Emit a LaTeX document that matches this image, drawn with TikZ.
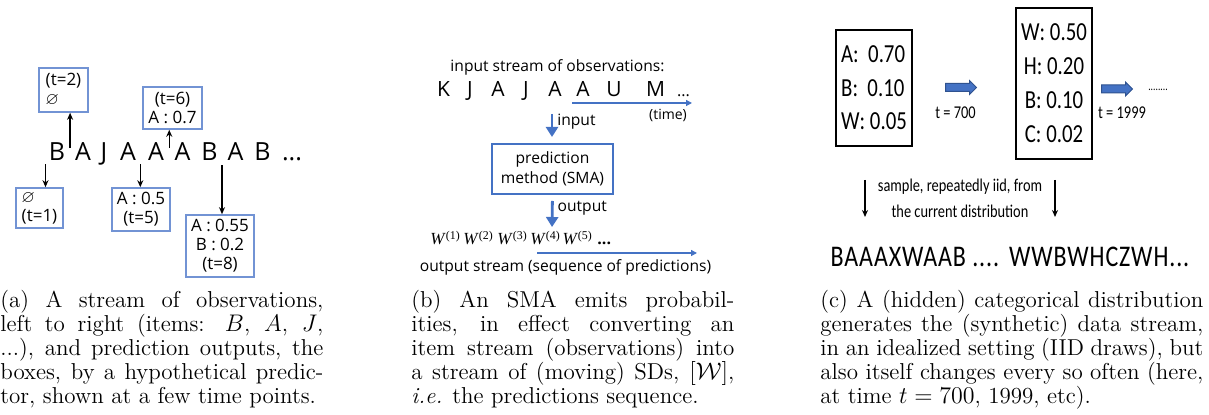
\documentclass[tikz,border=0pt]{standalone}
\usepackage{fontspec}
\usepackage{amsmath,amssymb}
\usetikzlibrary{arrows.meta,calc,shapes.arrows}
\newfontfamily\osans{Open Sans}
\newfontfamily\csans{Carlito}[FakeStretch=0.8]
\newfontfamily\lserif{Liberation Serif}
\definecolor{boxblue}{RGB}{114,147,212}
\definecolor{arrblue}{RGB}{68,114,196}
\definecolor{darkblue}{RGB}{47,82,143}

\begin{document}
\begin{tikzpicture}[x=0.5pt, y=-0.5pt, >={Stealth[length=3.5pt,width=3pt]},
    obs/.style={font=\osans\fontsize{12.5}{14}\selectfont, inner sep=0pt, anchor=base},
    kobs/.style={font=\osans\fontsize{10.5}{12}\selectfont, inner sep=0pt, anchor=base},
    pbox/.style={draw=boxblue, line width=0.8pt, font=\osans\fontsize{8.5}{9.5}\selectfont, inner sep=0pt},
    lbl/.style={font=\osans\fontsize{7.8}{10}\selectfont, inner sep=0pt, text=black},
    wseq/.style={font=\lserif\fontsize{8.5}{10}\selectfont, inner sep=0pt, anchor=base west},
    barr/.style={arrblue, line width=1.4pt, -{Triangle[width=6pt,length=5pt]}},
    tarr/.style={arrblue, line width=0.6pt, -{Triangle[width=3pt,length=3pt]}},
    dbox/.style={draw, line width=1pt, font=\csans\fontsize{13}{16.75}\selectfont, inner sep=0pt},
    barrow/.style={single arrow, draw=darkblue, fill=arrblue, line width=0.5pt, minimum height=15.5pt,
      minimum width=0pt, single arrow head extend=1.5pt, inner xsep=0pt, inner ysep=1.75pt},
    ctxt/.style={font=\csans\fontsize{9}{13}\selectfont, inner sep=0pt},
    captxt/.style={anchor=base west, inner sep=0pt, font=\fontsize{11.5}{11.9}\selectfont}]
  \useasboundingbox (0,0) rectangle (1209,415);

  % (a) observations and predictor boxes
  \node[obs] (l1) at (57,161) {B};
  \node[obs] (l2) at (83,161) {A};
  \node[obs] (l3) at (104,161) {J};
  \node[obs] (l4) at (128,161) {A};
  \node[obs] (l5) at (156,161) {A};
  \node[obs] (l6) at (182.5,161) {A};
  \node[obs] (l7) at (209.5,161) {B};
  \node[obs] (l8) at (235.5,161) {A};
  \node[obs] (l9) at (262.5,161) {B};
  \node[obs] (l10) at (292,161) {...};

  \node[pbox, minimum width=24.5pt, minimum height=22pt, align=left] (bx2) at (63.5,90) {(t=2)\\$\varnothing$};
  \node[pbox, minimum width=29.5pt, minimum height=21pt, align=center] (bx6) at (172.5,108) {(t=6)\\A : 0.7};
  \node[pbox, minimum width=23.5pt, minimum height=20pt, align=left] (bx1) at (39.5,208) {$\varnothing$\\(t=1)};
  \node[pbox, minimum width=29pt, minimum height=21.5pt, align=center] (bx5) at (141,209.5) {A : 0.5\\(t=5)};
  \node[pbox, minimum width=34pt, minimum height=31pt, align=center] (bx8) at (220,246) {A : 0.55\\B : 0.2\\(t=8)};

  \coordinate (a1) at ([xshift=-1.5pt,yshift=-1.5pt]l1.south west);
  \coordinate (a2) at ($(l1.east)!.5!(l2.west)+(0,-4)$);
  \coordinate (a3) at ([xshift=2pt,yshift=-1.5pt]l4.south east);
  \coordinate (a4) at ($(l5.east)!.5!(l6.west)+(0,-4)$);
  \coordinate (a5) at ([xshift=2pt,yshift=-2pt]l7.south east);
  \draw[->, line width=0.6pt] (a1) -- (a1 |- bx1.north);
  \draw[->, line width=0.6pt] (a2) -- (a2 |- bx2.south);
  \draw[->, line width=0.6pt] (a3) -- (a3 |- bx5.north);
  \draw[->, line width=0.6pt] (a4) -- (a4 |- bx6.south);
  \draw[->, line width=0.6pt] (a5) -- (a5 |- bx8.north);

  % (b) SMA
  \node[lbl] (ttl) at (557.5,67) {input stream of observations:};
  \node[kobs] (k1) at (443.5,97) {K};
  \node[kobs] (k2) at (470,97) {J};
  \node[kobs] (k3) at (498,97) {A};
  \node[kobs] (k4) at (526,97) {J};
  \node[kobs] (k5) at (555,97) {A};
  \node[kobs] (k6) at (583,97) {A};
  \node[kobs] (k7) at (614,97) {U};
  \node[kobs] (k8) at (655.5,97) {M};
  \node[kobs, font=\osans\fontsize{8}{9}\selectfont] (k9) at (683.5,97) {...};
  \coordinate (t0) at (572,103);
  \coordinate (t1) at (692,103);
  \draw[tarr] (t0) -- (t1);
  \node[font=\osans\fontsize{7}{8}\selectfont, inner sep=0pt] (tm) at (668,115) {(time)};

  \node[lbl, draw=arrblue, line width=1pt, minimum width=60.5pt, minimum height=25pt, align=center] (sma) at (552.5,169) {prediction\\method (SMA)};
  \coordinate (in0) at (552,114);
  \coordinate (out1) at (552,227);
  \draw[barr, shorten >=3pt] (in0) -- (in0 |- sma.north) node[lbl, pos=0.27, right=2pt] {input};
  \draw[barr, shorten <=3pt] (sma.south) -- (out1) node[lbl, pos=0.42, right=2pt] {output};

  \node[wseq] (w1) at (430,245) {\textit{W}\textsuperscript{(1)}};
  \node[wseq] (w2) at (463,245) {\textit{W}\textsuperscript{(2)}};
  \node[wseq] (w3) at (497,245) {\textit{W}\textsuperscript{(3)}};
  \node[wseq] (w4) at (530,245) {\textit{W}\textsuperscript{(4)}};
  \node[wseq] (w5) at ([xshift=0.5pt]w4.base east) {\textit{W}\textsuperscript{(5)}};
  \node[wseq, font=\osans\bfseries\fontsize{8}{9}\selectfont] (w6) at (597,245) {...};
  \coordinate (o0) at (537,253);
  \coordinate (o1) at (697,253);
  \draw[tarr] (o0) -- (o1);
  \node[lbl] (outs) at (565.5,267) {output stream (sequence of predictions)};

  % (c) hidden distribution
  \node[dbox, minimum width=38pt, minimum height=58pt, align=left] (d1) at (874,88) {A:\ \ 0.70\\B:\ \ 0.10\\W: 0.05};
  \node[barrow] (ar1) at (959,87.5) {};
  \node[ctxt] (t700) at (955.5,113) {t = 700};
  \node[dbox, font=\csans\fontsize{13}{17}\selectfont, minimum width=38pt, minimum height=75.5pt, align=center] (d2) at (1054,83.5) {W: 0.50\\H: 0.20\\B: 0.10\\C: 0.02};
  \node[barrow] (ar2) at (1115,89) {};
  \node[ctxt, font=\csans\fontsize{6}{6}\selectfont] (dots) at (1158,90) {........};
  \node[ctxt] (t1999) at (1122,113) {t = 1999};

  \coordinate (s0) at (865,180);
  \coordinate (s1) at (865,217);
  \coordinate (s2) at (1055,180);
  \coordinate (s3) at (1055,217);
  \draw[->, line width=0.6pt] (s0) -- (s1);
  \draw[->, line width=0.6pt] (s2) -- (s3);
  \node[ctxt, align=center] (smp) at (960,198) {sample, repeatedly iid, from\\the current distribution};
  \node[inner sep=0pt, font=\csans\addfontfeature{LetterSpace=3}\fontsize{15}{17}\selectfont] (seq) at (1010,257)
    {BAAAXWAAB ....\hspace{5pt}WWBWHCZWH...};

  % captions
  \node[captxt] (capa) at (0,308) {\parbox[t]{161.5pt}{%
    (a) A stream of observations,\linebreak left to right (items: $B$, $A$, $J$,\linebreak
    ...), and prediction outputs, the\linebreak boxes, by a hypothetical predic-\linebreak
    tor, shown at a few time points.}};
  \node[captxt] (capb) at (411,308) {\parbox[t]{161.5pt}{%
    (b) An SMA emits probabil-\linebreak ities, in effect converting an\linebreak
    item stream (observations) into\linebreak a stream of (moving) SDs, $[\mathcal{W}]$,\linebreak
    \textit{i.e.} the predictions sequence.}};
  \node[captxt] (capc) at (820,308) {\parbox[t]{191.5pt}{%
    (c) A (hidden) categorical distribution\linebreak generates the (synthetic) data stream,\linebreak
    in an idealized setting (IID draws), but\linebreak also itself changes every so often (here,\linebreak
    at time $t = 700$, 1999, etc).}};
\end{tikzpicture}
\end{document}
